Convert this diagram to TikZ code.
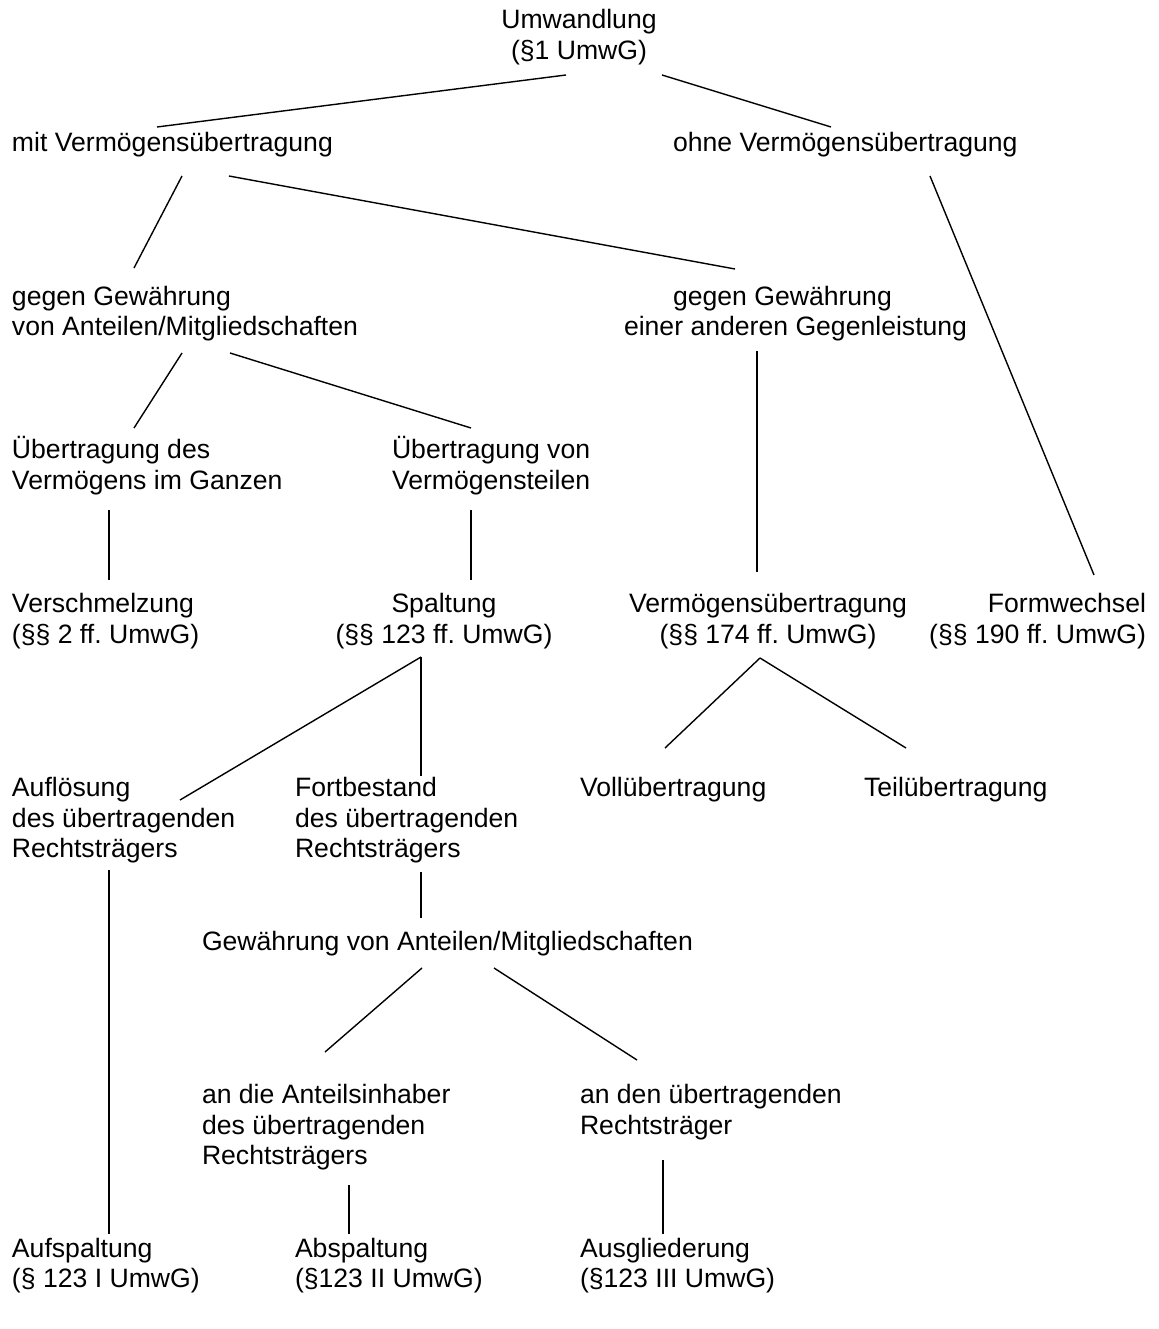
\documentclass[tikz,border=0pt]{standalone}
\usepackage{fontspec}
\setmainfont{Liberation Sans}
\frenchspacing
\newcommand\mylines[2]{\begin{tabular}[t]{@{}#1@{}}#2\end{tabular}}
\begin{document}
\begin{tikzpicture}[x=1pt,y=-1pt,
  lbl/.style={inner sep=0pt, outer sep=0pt, font=\fontsize{26.6}{30.7}\selectfont\frenchspacing},
  lw/.style={lbl, anchor=base west},
  lc/.style={lbl, anchor=base},
  lr/.style={lbl, anchor=base east},
  con/.style={line width=1.4pt, line cap=butt}]
\useasboundingbox (0,0) rectangle (1158,1329);
% ---- nodes
\node[lc] (umw)  at (579,29)    {\mylines{c}{Umwandlung\\(§1 UmwG)}};
\node[lw] (mit)  at (12,151.8)  {mit Vermögensübertragung};
\node[lw] (ohne) at (673,151.8) {ohne Vermögensübertragung};
\node[lw] (gga)  at (12,305.3)  {\mylines{l}{gegen Gewährung\\von Anteilen/Mitgliedschaften}};
\node[lw] (ggb)  at (624,305.3) {\mylines{l}{\hspace*{49pt}gegen Gewährung\\einer anderen Gegenleistung}};
\node[lw] (ued)  at (12,458.8)  {\mylines{l}{Übertragung des\\Vermögens im Ganzen}};
\node[lw] (uev)  at (392,458.8) {\mylines{l}{Übertragung von\\Vermögensteilen}};
\node[lw] (ver)  at (12,612.3)  {\mylines{l}{Verschmelzung\\(§§ 2 ff. UmwG)}};
\node[lc] (spa)  at (444,612.3) {\mylines{c}{Spaltung\\(§§ 123 ff. UmwG)}};
\node[lc] (vue)  at (768,612.3) {\mylines{c}{Vermögensübertragung\\(§§ 174 ff. UmwG)}};
\node[lr] (form) at (1146,612.3) {\mylines{r}{Formwechsel\\(§§ 190 ff. UmwG)}};
\node[lw] (aufl) at (12,796.5)  {\mylines{l}{Auflösung\\des übertragenden\\Rechtsträgers}};
\node[lw] (fort) at (295,796.5) {\mylines{l}{Fortbestand\\des übertragenden\\Rechtsträgers}};
\node[lw] (voll) at (580,796.5) {Vollübertragung};
\node[lw] (teil) at (864,796.5) {Teilübertragung};
\node[lw] (gew)  at (202,950)   {Gewährung von Anteilen/Mitgliedschaften};
\node[lw] (andie) at (202,1103.5) {\mylines{l}{an die Anteilsinhaber\\des übertragenden\\Rechtsträgers}};
\node[lw] (anden) at (580,1103.5) {\mylines{l}{an den übertragenden\\Rechtsträger}};
\node[lw] (aufs) at (12,1257)   {\mylines{l}{Aufspaltung\\(§ 123 I UmwG)}};
\node[lw] (abs)  at (295,1257)  {\mylines{l}{Abspaltung\\(§123 II UmwG)}};
\node[lw] (ausg) at (580,1257)  {\mylines{l}{Ausgliederung\\(§123 III UmwG)}};
% ---- connector end points
\coordinate (umwL) at (566,75);   \coordinate (mitT) at (157,127);
\coordinate (umwR) at (662,75);   \coordinate (ohneT) at (831,127);
\coordinate (mitL) at (182,176);  \coordinate (ggaT) at (134,268);
\coordinate (mitR) at (229,176);  \coordinate (ggbT) at (735,269);
\coordinate (ohneB) at (930,176); \coordinate (formT) at (1094,575);
\coordinate (ggbB) at (757,351);  \coordinate (vueT) at (757,572);
\coordinate (ggaL) at (182,353);  \coordinate (uedT) at (134,428);
\coordinate (ggaR) at (230,353);  \coordinate (uevT) at (471,428);
\coordinate (uedB) at (109,510);  \coordinate (verT) at (109,580);
\coordinate (uevB) at (471,510);  \coordinate (spaT) at (471,580);
\coordinate (spaB) at (421,657);  \coordinate (auflT) at (180,800);
                                  \coordinate (fortT) at (421,776);
\coordinate (vueB) at (760,658);  \coordinate (vollT) at (665,748);
                                  \coordinate (teilT) at (906,748);
\coordinate (auflB) at (109,870); \coordinate (aufsT) at (109,1234);
\coordinate (fortB) at (421,872); \coordinate (gewT) at (421,918);
\coordinate (gewL) at (422,968);  \coordinate (andieT) at (325,1052);
\coordinate (gewR) at (494,968);  \coordinate (andenT) at (637,1060);
\coordinate (andieB) at (349,1185); \coordinate (absT) at (349,1234);
\coordinate (andenB) at (663,1160); \coordinate (ausgT) at (663,1234);
% ---- connectors
\draw[con] (umwL) -- (mitT);
\draw[con] (umwR) -- (ohneT);
\draw[con] (mitL) -- (ggaT);
\draw[con] (mitR) -- (ggbT);
\draw[con] (ohneB) -- (formT);
\draw[con] (ggbB) -- (vueT);
\draw[con] (ggaL) -- (uedT);
\draw[con] (ggaR) -- (uevT);
\draw[con] (uedB) -- (verT);
\draw[con] (uevB) -- (spaT);
\draw[con] (spaB) -- (auflT);
\draw[con] (spaB) -- (fortT);
\draw[con] (vueB) -- (vollT);
\draw[con] (vueB) -- (teilT);
\draw[con] (auflB) -- (aufsT);
\draw[con] (fortB) -- (gewT);
\draw[con] (gewL) -- (andieT);
\draw[con] (gewR) -- (andenT);
\draw[con] (andieB) -- (absT);
\draw[con] (andenB) -- (ausgT);
\end{tikzpicture}
\end{document}
